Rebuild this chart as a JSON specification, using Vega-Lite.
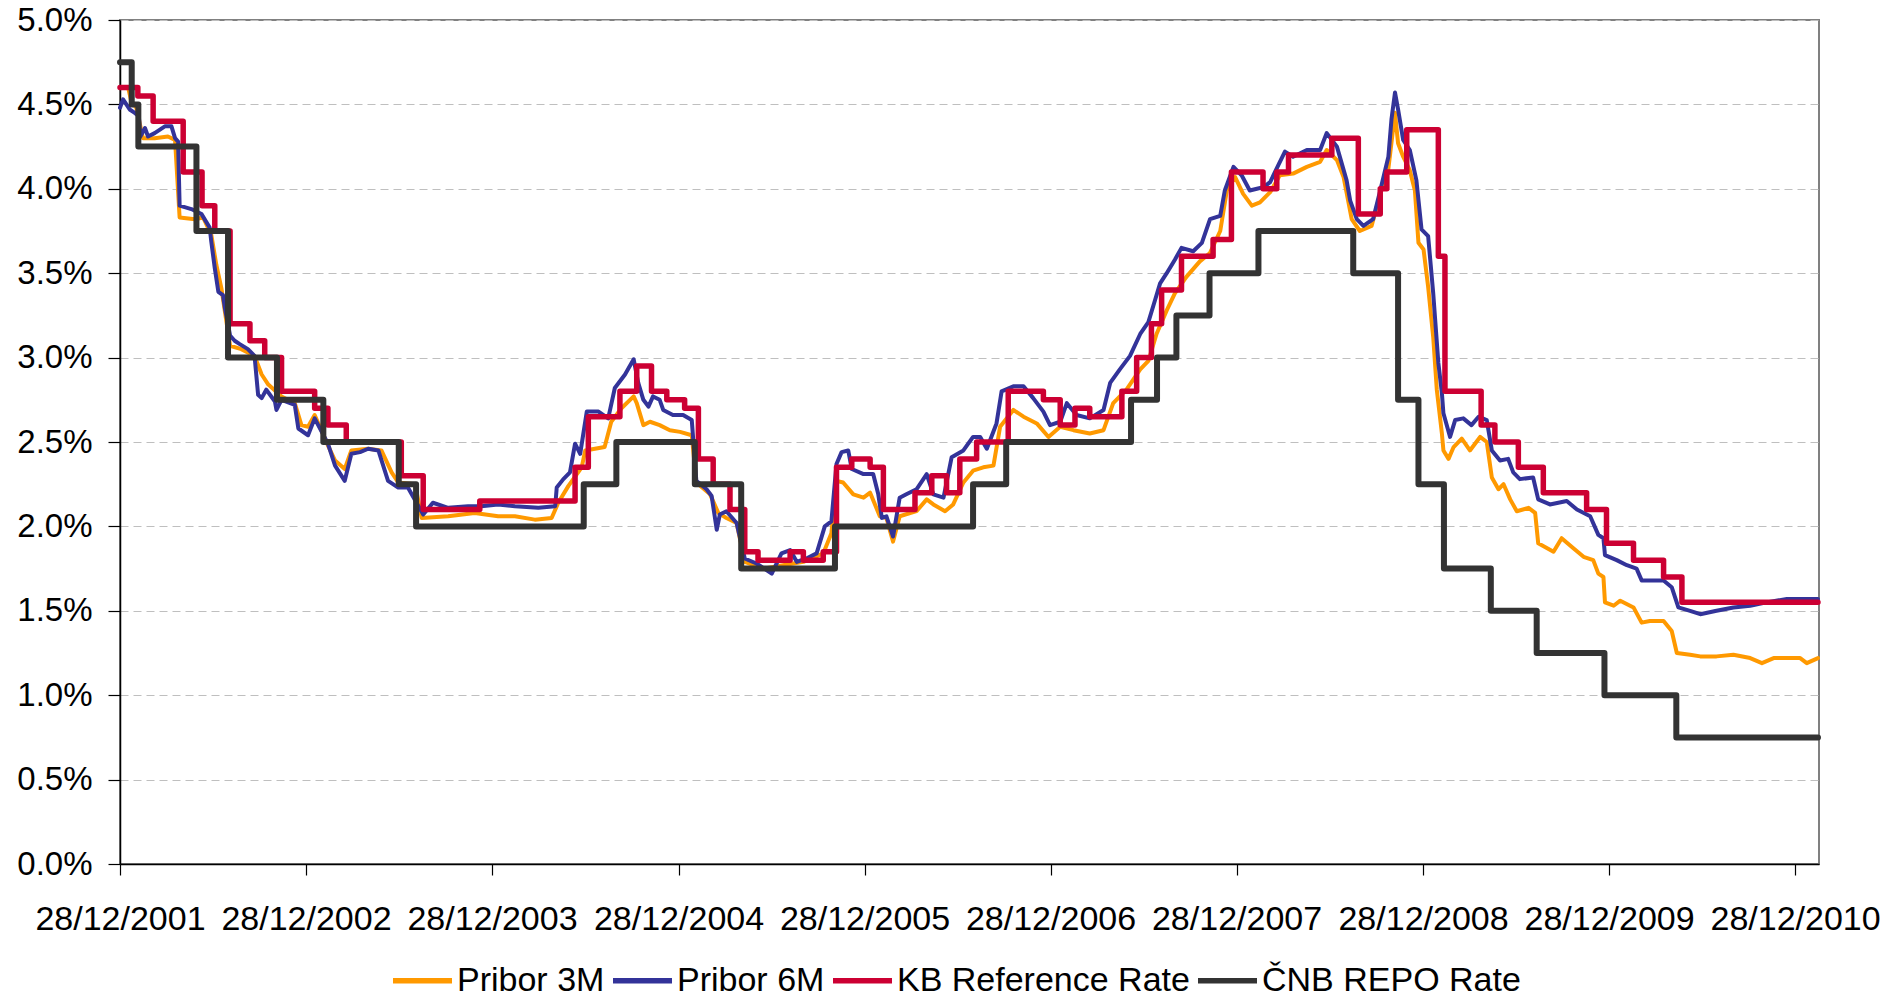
{
"$schema": "https://vega.github.io/schema/vega-lite/v6.json",
"width": 1699, "height": 844,
"autosize": {"type": "none"},
"padding": {"left": 120, "top": 20, "right": 82, "bottom": 133},
"background": "white",
"datasets": {
"p3": [
{"date":"2001-12-28","rate":4.60},{"date":"2002-01-13","rate":4.60},{"date":"2002-01-19","rate":4.52},{"date":"2002-01-29","rate":4.48},{"date":"2002-02-11","rate":4.30},{"date":"2002-03-06","rate":4.30},{"date":"2002-04-01","rate":4.31},{"date":"2002-04-15","rate":4.29},{"date":"2002-04-24","rate":3.83},{"date":"2002-05-24","rate":3.82},{"date":"2002-06-09","rate":3.83},{"date":"2002-06-25","rate":3.73},{"date":"2002-07-05","rate":3.55},{"date":"2002-07-15","rate":3.41},{"date":"2002-08-01","rate":3.07},{"date":"2002-08-23","rate":3.05},{"date":"2002-09-18","rate":3.01},{"date":"2002-10-02","rate":2.90},{"date":"2002-10-15","rate":2.84},{"date":"2002-11-10","rate":2.77},{"date":"2002-12-06","rate":2.73},{"date":"2002-12-19","rate":2.60},{"date":"2003-01-01","rate":2.59},{"date":"2003-01-14","rate":2.66},{"date":"2003-02-09","rate":2.48},{"date":"2003-02-23","rate":2.39},{"date":"2003-03-14","rate":2.34},{"date":"2003-03-27","rate":2.45},{"date":"2003-04-29","rate":2.46},{"date":"2003-05-25","rate":2.45},{"date":"2003-06-14","rate":2.32},{"date":"2003-06-27","rate":2.26},{"date":"2003-07-30","rate":2.25},{"date":"2003-08-12","rate":2.05},{"date":"2003-10-03","rate":2.06},{"date":"2003-11-24","rate":2.08},{"date":"2004-01-09","rate":2.06},{"date":"2004-02-11","rate":2.06},{"date":"2004-03-21","rate":2.04},{"date":"2004-04-23","rate":2.05},{"date":"2004-05-06","rate":2.14},{"date":"2004-05-26","rate":2.24},{"date":"2004-06-21","rate":2.35},{"date":"2004-06-28","rate":2.45},{"date":"2004-08-05","rate":2.47},{"date":"2004-08-18","rate":2.62},{"date":"2004-09-07","rate":2.70},{"date":"2004-10-01","rate":2.77},{"date":"2004-10-07","rate":2.73},{"date":"2004-10-20","rate":2.60},{"date":"2004-11-02","rate":2.62},{"date":"2004-11-21","rate":2.60},{"date":"2004-12-11","rate":2.57},{"date":"2004-12-31","rate":2.56},{"date":"2005-01-23","rate":2.54},{"date":"2005-02-01","rate":2.26},{"date":"2005-02-28","rate":2.19},{"date":"2005-03-16","rate":2.08},{"date":"2005-04-01","rate":2.05},{"date":"2005-04-21","rate":2.02},{"date":"2005-05-07","rate":1.79},{"date":"2005-06-12","rate":1.75},{"date":"2005-07-21","rate":1.77},{"date":"2005-08-30","rate":1.79},{"date":"2005-10-08","rate":1.84},{"date":"2005-10-24","rate":1.96},{"date":"2005-11-03","rate":2.27},{"date":"2005-11-16","rate":2.26},{"date":"2005-12-06","rate":2.19},{"date":"2005-12-26","rate":2.17},{"date":"2006-01-08","rate":2.20},{"date":"2006-01-27","rate":2.06},{"date":"2006-02-09","rate":2.05},{"date":"2006-02-22","rate":1.91},{"date":"2006-03-07","rate":2.06},{"date":"2006-04-09","rate":2.09},{"date":"2006-04-29","rate":2.16},{"date":"2006-05-12","rate":2.13},{"date":"2006-06-04","rate":2.09},{"date":"2006-06-20","rate":2.13},{"date":"2006-07-10","rate":2.26},{"date":"2006-07-29","rate":2.33},{"date":"2006-08-18","rate":2.35},{"date":"2006-09-07","rate":2.36},{"date":"2006-09-20","rate":2.59},{"date":"2006-10-16","rate":2.69},{"date":"2006-11-05","rate":2.65},{"date":"2006-12-01","rate":2.61},{"date":"2006-12-24","rate":2.53},{"date":"2007-01-16","rate":2.59},{"date":"2007-02-11","rate":2.57},{"date":"2007-03-15","rate":2.55},{"date":"2007-04-11","rate":2.57},{"date":"2007-04-30","rate":2.73},{"date":"2007-05-26","rate":2.81},{"date":"2007-06-22","rate":2.93},{"date":"2007-07-08","rate":2.98},{"date":"2007-07-24","rate":3.14},{"date":"2007-08-13","rate":3.28},{"date":"2007-08-29","rate":3.38},{"date":"2007-09-21","rate":3.48},{"date":"2007-10-17","rate":3.57},{"date":"2007-11-06","rate":3.62},{"date":"2007-11-26","rate":3.75},{"date":"2007-12-09","rate":3.99},{"date":"2007-12-25","rate":4.07},{"date":"2008-01-10","rate":3.97},{"date":"2008-01-27","rate":3.90},{"date":"2008-02-12","rate":3.92},{"date":"2008-03-03","rate":3.98},{"date":"2008-03-22","rate":4.08},{"date":"2008-04-17","rate":4.09},{"date":"2008-05-14","rate":4.13},{"date":"2008-06-09","rate":4.16},{"date":"2008-06-22","rate":4.23},{"date":"2008-07-12","rate":4.17},{"date":"2008-07-25","rate":4.07},{"date":"2008-08-10","rate":3.82},{"date":"2008-08-26","rate":3.75},{"date":"2008-09-18","rate":3.78},{"date":"2008-10-05","rate":3.97},{"date":"2008-10-21","rate":4.12},{"date":"2008-11-03","rate":4.45},{"date":"2008-11-09","rate":4.27},{"date":"2008-11-19","rate":4.19},{"date":"2008-12-02","rate":4.11},{"date":"2008-12-12","rate":3.99},{"date":"2008-12-19","rate":3.68},{"date":"2008-12-29","rate":3.64},{"date":"2009-01-07","rate":3.42},{"date":"2009-01-17","rate":3.12},{"date":"2009-01-24","rate":2.81},{"date":"2009-02-03","rate":2.55},{"date":"2009-02-06","rate":2.45},{"date":"2009-02-16","rate":2.40},{"date":"2009-02-26","rate":2.47},{"date":"2009-03-14","rate":2.52},{"date":"2009-03-30","rate":2.45},{"date":"2009-04-19","rate":2.53},{"date":"2009-05-02","rate":2.50},{"date":"2009-05-12","rate":2.29},{"date":"2009-05-25","rate":2.22},{"date":"2009-06-04","rate":2.25},{"date":"2009-06-17","rate":2.16},{"date":"2009-06-30","rate":2.09},{"date":"2009-07-23","rate":2.11},{"date":"2009-08-05","rate":2.08},{"date":"2009-08-11","rate":1.90},{"date":"2009-09-10","rate":1.85},{"date":"2009-09-26","rate":1.93},{"date":"2009-10-19","rate":1.87},{"date":"2009-11-08","rate":1.82},{"date":"2009-11-27","rate":1.80},{"date":"2009-12-07","rate":1.72},{"date":"2009-12-17","rate":1.70},{"date":"2009-12-20","rate":1.55},{"date":"2010-01-06","rate":1.53},{"date":"2010-01-19","rate":1.56},{"date":"2010-02-14","rate":1.52},{"date":"2010-03-02","rate":1.43},{"date":"2010-03-18","rate":1.44},{"date":"2010-04-14","rate":1.44},{"date":"2010-04-30","rate":1.38},{"date":"2010-05-10","rate":1.25},{"date":"2010-06-05","rate":1.24},{"date":"2010-06-25","rate":1.23},{"date":"2010-07-27","rate":1.23},{"date":"2010-08-29","rate":1.24},{"date":"2010-10-01","rate":1.22},{"date":"2010-10-24","rate":1.19},{"date":"2010-11-16","rate":1.22},{"date":"2011-01-07","rate":1.22},{"date":"2011-01-20","rate":1.19},{"date":"2011-02-11","rate":1.22}
],
"p6": [
{"date":"2001-12-28","rate":4.48},{"date":"2002-01-03","rate":4.53},{"date":"2002-01-16","rate":4.47},{"date":"2002-01-26","rate":4.45},{"date":"2002-02-03","rate":4.43},{"date":"2002-02-06","rate":4.31},{"date":"2002-02-15","rate":4.36},{"date":"2002-02-21","rate":4.31},{"date":"2002-03-06","rate":4.33},{"date":"2002-03-26","rate":4.37},{"date":"2002-04-08","rate":4.37},{"date":"2002-04-15","rate":4.30},{"date":"2002-04-21","rate":4.28},{"date":"2002-04-24","rate":3.90},{"date":"2002-05-17","rate":3.88},{"date":"2002-06-06","rate":3.85},{"date":"2002-06-22","rate":3.77},{"date":"2002-06-25","rate":3.69},{"date":"2002-07-02","rate":3.53},{"date":"2002-07-09","rate":3.39},{"date":"2002-07-18","rate":3.37},{"date":"2002-07-22","rate":3.29},{"date":"2002-08-01","rate":3.13},{"date":"2002-08-10","rate":3.10},{"date":"2002-08-20","rate":3.08},{"date":"2002-09-05","rate":3.05},{"date":"2002-09-18","rate":3.01},{"date":"2002-09-25","rate":2.78},{"date":"2002-10-02","rate":2.76},{"date":"2002-10-11","rate":2.81},{"date":"2002-10-28","rate":2.74},{"date":"2002-10-31","rate":2.69},{"date":"2002-11-10","rate":2.75},{"date":"2002-12-06","rate":2.72},{"date":"2002-12-13","rate":2.58},{"date":"2003-01-01","rate":2.54},{"date":"2003-01-14","rate":2.64},{"date":"2003-02-09","rate":2.49},{"date":"2003-02-23","rate":2.36},{"date":"2003-03-14","rate":2.27},{"date":"2003-03-27","rate":2.43},{"date":"2003-04-13","rate":2.44},{"date":"2003-04-29","rate":2.46},{"date":"2003-05-19","rate":2.45},{"date":"2003-06-07","rate":2.27},{"date":"2003-06-27","rate":2.23},{"date":"2003-07-16","rate":2.23},{"date":"2003-08-15","rate":2.07},{"date":"2003-09-03","rate":2.14},{"date":"2003-10-03","rate":2.11},{"date":"2003-11-11","rate":2.12},{"date":"2003-12-07","rate":2.12},{"date":"2004-01-09","rate":2.13},{"date":"2004-02-11","rate":2.12},{"date":"2004-03-28","rate":2.11},{"date":"2004-04-30","rate":2.12},{"date":"2004-05-03","rate":2.23},{"date":"2004-05-16","rate":2.28},{"date":"2004-05-29","rate":2.32},{"date":"2004-06-08","rate":2.49},{"date":"2004-06-18","rate":2.43},{"date":"2004-07-01","rate":2.68},{"date":"2004-07-24","rate":2.68},{"date":"2004-08-12","rate":2.64},{"date":"2004-08-25","rate":2.82},{"date":"2004-09-14","rate":2.90},{"date":"2004-10-01","rate":2.99},{"date":"2004-10-10","rate":2.85},{"date":"2004-10-20","rate":2.75},{"date":"2004-10-30","rate":2.71},{"date":"2004-11-08","rate":2.77},{"date":"2004-11-21","rate":2.75},{"date":"2004-11-28","rate":2.69},{"date":"2004-12-17","rate":2.66},{"date":"2005-01-06","rate":2.66},{"date":"2005-01-23","rate":2.63},{"date":"2005-02-01","rate":2.27},{"date":"2005-02-21","rate":2.22},{"date":"2005-03-03","rate":2.18},{"date":"2005-03-09","rate":2.06},{"date":"2005-03-13","rate":1.98},{"date":"2005-03-19","rate":2.07},{"date":"2005-04-01","rate":2.09},{"date":"2005-04-21","rate":2.02},{"date":"2005-05-07","rate":1.81},{"date":"2005-05-30","rate":1.78},{"date":"2005-06-29","rate":1.72},{"date":"2005-07-18","rate":1.84},{"date":"2005-08-04","rate":1.86},{"date":"2005-08-17","rate":1.79},{"date":"2005-09-05","rate":1.81},{"date":"2005-09-25","rate":1.84},{"date":"2005-10-11","rate":2.00},{"date":"2005-10-24","rate":2.03},{"date":"2005-11-03","rate":2.37},{"date":"2005-11-13","rate":2.44},{"date":"2005-11-26","rate":2.45},{"date":"2005-12-03","rate":2.34},{"date":"2005-12-26","rate":2.31},{"date":"2006-01-14","rate":2.31},{"date":"2006-01-24","rate":2.19},{"date":"2006-01-31","rate":2.05},{"date":"2006-02-09","rate":2.06},{"date":"2006-02-22","rate":1.94},{"date":"2006-03-07","rate":2.17},{"date":"2006-03-20","rate":2.19},{"date":"2006-04-09","rate":2.22},{"date":"2006-04-29","rate":2.31},{"date":"2006-05-12","rate":2.19},{"date":"2006-06-01","rate":2.17},{"date":"2006-06-17","rate":2.41},{"date":"2006-07-10","rate":2.45},{"date":"2006-07-29","rate":2.53},{"date":"2006-08-12","rate":2.53},{"date":"2006-08-25","rate":2.46},{"date":"2006-09-13","rate":2.61},{"date":"2006-09-23","rate":2.80},{"date":"2006-10-16","rate":2.83},{"date":"2006-11-05","rate":2.83},{"date":"2006-11-24","rate":2.76},{"date":"2006-12-14","rate":2.68},{"date":"2006-12-27","rate":2.60},{"date":"2007-01-16","rate":2.62},{"date":"2007-01-29","rate":2.73},{"date":"2007-02-17","rate":2.66},{"date":"2007-03-15","rate":2.64},{"date":"2007-04-11","rate":2.69},{"date":"2007-04-24","rate":2.85},{"date":"2007-05-13","rate":2.93},{"date":"2007-06-02","rate":3.01},{"date":"2007-06-22","rate":3.14},{"date":"2007-07-08","rate":3.21},{"date":"2007-07-21","rate":3.34},{"date":"2007-07-31","rate":3.44},{"date":"2007-08-13","rate":3.50},{"date":"2007-08-29","rate":3.58},{"date":"2007-09-11","rate":3.65},{"date":"2007-10-04","rate":3.63},{"date":"2007-10-21","rate":3.68},{"date":"2007-11-06","rate":3.82},{"date":"2007-11-26","rate":3.84},{"date":"2007-12-05","rate":3.99},{"date":"2007-12-22","rate":4.13},{"date":"2008-01-07","rate":4.08},{"date":"2008-01-23","rate":3.99},{"date":"2008-02-06","rate":4.00},{"date":"2008-02-19","rate":4.01},{"date":"2008-03-03","rate":4.04},{"date":"2008-03-19","rate":4.14},{"date":"2008-04-01","rate":4.22},{"date":"2008-04-17","rate":4.19},{"date":"2008-05-14","rate":4.23},{"date":"2008-06-09","rate":4.23},{"date":"2008-06-22","rate":4.33},{"date":"2008-07-12","rate":4.25},{"date":"2008-07-31","rate":4.05},{"date":"2008-08-07","rate":3.93},{"date":"2008-08-20","rate":3.82},{"date":"2008-09-02","rate":3.78},{"date":"2008-09-21","rate":3.82},{"date":"2008-10-05","rate":3.99},{"date":"2008-10-21","rate":4.19},{"date":"2008-10-27","rate":4.41},{"date":"2008-11-03","rate":4.57},{"date":"2008-11-09","rate":4.47},{"date":"2008-11-19","rate":4.29},{"date":"2008-12-02","rate":4.23},{"date":"2008-12-15","rate":4.05},{"date":"2008-12-25","rate":3.76},{"date":"2009-01-07","rate":3.72},{"date":"2009-01-17","rate":3.38},{"date":"2009-01-27","rate":2.97},{"date":"2009-02-03","rate":2.79},{"date":"2009-02-06","rate":2.67},{"date":"2009-02-19","rate":2.53},{"date":"2009-03-01","rate":2.63},{"date":"2009-03-17","rate":2.64},{"date":"2009-04-02","rate":2.60},{"date":"2009-04-16","rate":2.65},{"date":"2009-05-02","rate":2.63},{"date":"2009-05-12","rate":2.45},{"date":"2009-05-28","rate":2.39},{"date":"2009-06-13","rate":2.40},{"date":"2009-06-23","rate":2.32},{"date":"2009-07-06","rate":2.28},{"date":"2009-08-01","rate":2.29},{"date":"2009-08-11","rate":2.16},{"date":"2009-09-03","rate":2.13},{"date":"2009-10-06","rate":2.15},{"date":"2009-10-26","rate":2.10},{"date":"2009-11-21","rate":2.06},{"date":"2009-12-07","rate":1.95},{"date":"2009-12-17","rate":1.93},{"date":"2009-12-20","rate":1.83},{"date":"2010-01-12","rate":1.80},{"date":"2010-02-01","rate":1.77},{"date":"2010-02-20","rate":1.75},{"date":"2010-03-02","rate":1.68},{"date":"2010-03-18","rate":1.68},{"date":"2010-04-14","rate":1.68},{"date":"2010-04-30","rate":1.64},{"date":"2010-05-13","rate":1.52},{"date":"2010-06-05","rate":1.50},{"date":"2010-06-25","rate":1.48},{"date":"2010-07-27","rate":1.50},{"date":"2010-08-29","rate":1.52},{"date":"2010-10-01","rate":1.53},{"date":"2010-11-02","rate":1.55},{"date":"2010-12-12","rate":1.57},{"date":"2011-01-13","rate":1.57},{"date":"2011-02-11","rate":1.57}
],
"kb": [
{"date":"2001-12-28","rate":4.60},{"date":"2002-02-01","rate":4.55},{"date":"2002-03-03","rate":4.40},{"date":"2002-05-01","rate":4.10},{"date":"2002-06-07","rate":3.90},{"date":"2002-07-02","rate":3.75},{"date":"2002-08-01","rate":3.20},{"date":"2002-09-09","rate":3.10},{"date":"2002-10-08","rate":3.00},{"date":"2002-11-10","rate":2.80},{"date":"2003-01-14","rate":2.70},{"date":"2003-02-09","rate":2.60},{"date":"2003-03-17","rate":2.50},{"date":"2003-07-03","rate":2.30},{"date":"2003-08-15","rate":2.10},{"date":"2003-12-04","rate":2.15},{"date":"2004-06-08","rate":2.35},{"date":"2004-07-04","rate":2.65},{"date":"2004-09-04","rate":2.80},{"date":"2004-10-07","rate":2.95},{"date":"2004-11-05","rate":2.80},{"date":"2004-12-05","rate":2.75},{"date":"2005-01-09","rate":2.70},{"date":"2005-02-05","rate":2.40},{"date":"2005-03-06","rate":2.25},{"date":"2005-04-08","rate":2.10},{"date":"2005-05-07","rate":1.85},{"date":"2005-06-02","rate":1.80},{"date":"2005-08-04","rate":1.85},{"date":"2005-08-30","rate":1.80},{"date":"2005-10-08","rate":1.85},{"date":"2005-11-03","rate":2.35},{"date":"2005-12-03","rate":2.40},{"date":"2006-01-08","rate":2.35},{"date":"2006-02-03","rate":2.10},{"date":"2006-04-06","rate":2.20},{"date":"2006-05-09","rate":2.30},{"date":"2006-06-07","rate":2.20},{"date":"2006-07-03","rate":2.40},{"date":"2006-08-05","rate":2.50},{"date":"2006-10-06","rate":2.80},{"date":"2006-12-14","rate":2.75},{"date":"2007-01-16","rate":2.60},{"date":"2007-02-14","rate":2.70},{"date":"2007-03-15","rate":2.65},{"date":"2007-05-17","rate":2.80},{"date":"2007-06-15","rate":3.00},{"date":"2007-07-14","rate":3.20},{"date":"2007-08-03","rate":3.40},{"date":"2007-09-11","rate":3.60},{"date":"2007-11-12","rate":3.70},{"date":"2007-12-18","rate":4.10},{"date":"2008-02-18","rate":4.00},{"date":"2008-03-16","rate":4.10},{"date":"2008-04-08","rate":4.20},{"date":"2008-07-02","rate":4.30},{"date":"2008-08-23","rate":3.85},{"date":"2008-10-05","rate":4.00},{"date":"2008-10-18","rate":4.10},{"date":"2008-11-26","rate":4.35},{"date":"2009-01-27","rate":3.60},{"date":"2009-02-09","rate":2.80},{"date":"2009-04-21","rate":2.60},{"date":"2009-05-18","rate":2.50},{"date":"2009-07-03","rate":2.35},{"date":"2009-08-21","rate":2.20},{"date":"2009-11-14","rate":2.10},{"date":"2009-12-23","rate":1.90},{"date":"2010-02-14","rate":1.80},{"date":"2010-04-14","rate":1.70},{"date":"2010-05-20","rate":1.55},{"date":"2011-02-11","rate":1.55}
],
"cnb": [
{"date":"2001-12-28","rate":4.75},{"date":"2002-01-20","rate":4.50},{"date":"2002-02-02","rate":4.25},{"date":"2002-05-27","rate":3.75},{"date":"2002-07-28","rate":3.00},{"date":"2002-11-01","rate":2.75},{"date":"2003-01-31","rate":2.50},{"date":"2003-06-28","rate":2.25},{"date":"2003-08-01","rate":2.00},{"date":"2004-06-25","rate":2.25},{"date":"2004-08-28","rate":2.50},{"date":"2005-01-29","rate":2.25},{"date":"2005-04-30","rate":1.75},{"date":"2005-10-31","rate":2.00},{"date":"2006-07-29","rate":2.25},{"date":"2006-10-02","rate":2.50},{"date":"2007-06-04","rate":2.75},{"date":"2007-07-25","rate":3.00},{"date":"2007-09-01","rate":3.25},{"date":"2007-11-05","rate":3.50},{"date":"2008-02-09","rate":3.75},{"date":"2008-08-13","rate":3.50},{"date":"2008-11-09","rate":2.75},{"date":"2008-12-19","rate":2.25},{"date":"2009-02-07","rate":1.75},{"date":"2009-05-10","rate":1.50},{"date":"2009-08-08","rate":1.25},{"date":"2009-12-19","rate":1.00},{"date":"2010-05-09","rate":0.75},{"date":"2011-02-11","rate":0.75}
]
},
"encoding": {
  "x": {"field": "date", "type": "temporal",
    "scale": {"type": "utc", "domain": [{"year": 2001, "month": 12, "date": 28, "utc": true}, {"year": 2011, "month": 2, "date": 13, "utc": true}]},
    "axis": {"title": null, "grid": false, "format": "%d/%m/%Y",
      "values": [{"year":2001,"month":12,"date":28,"utc":true},{"year":2002,"month":12,"date":28,"utc":true},{"year":2003,"month":12,"date":28,"utc":true},{"year":2004,"month":12,"date":28,"utc":true},{"year":2005,"month":12,"date":28,"utc":true},{"year":2006,"month":12,"date":28,"utc":true},{"year":2007,"month":12,"date":28,"utc":true},{"year":2008,"month":12,"date":28,"utc":true},{"year":2009,"month":12,"date":28,"utc":true},{"year":2010,"month":12,"date":28,"utc":true}],
      "tickSize": 11, "tickColor": "#000000", "tickWidth": 1.2, "domainColor": "#000000", "domainWidth": 1.5,
      "labelPadding": 27, "labelFontSize": 34, "labelFont": "Liberation Sans", "labelColor": "#000000",
      "labelOverlap": false, "labelFlush": false}},
  "y": {"field": "rate", "type": "quantitative",
    "scale": {"domain": [0, 5], "nice": false, "zero": true},
    "axis": {"title": null, "values": [0,0.5,1,1.5,2,2.5,3,3.5,4,4.5,5],
      "labelExpr": "format(datum.value, '.1f') + '%'",
      "grid": true, "gridColor": "#BFBFBF", "gridDash": [8, 5], "gridWidth": 1,
      "tickSize": 12, "tickColor": "#000000", "tickWidth": 1.2, "domainColor": "#000000", "domainWidth": 1.5,
      "labelPadding": 16, "labelFontSize": 33, "labelFont": "Liberation Sans", "labelColor": "#000000"}}
},
"layer": [
  {"data": {"name": "p3"},
   "mark": {"type": "line", "strokeWidth": 4, "strokeJoin": "round", "strokeCap": "round"},
   "encoding": {"color": {"datum": "Pribor 3M", "type": "nominal",
     "scale": {"domain": ["Pribor 3M", "Pribor 6M", "KB Reference Rate", "ČNB REPO Rate"], "range": ["#FF9900", "#333399", "#CC0033", "#333333"]},
     "legend": {"title": null, "orient": "none", "legendX": 270, "legendY": 928, "direction": "horizontal", "columns": 4,
       "symbolType": "stroke", "symbolSize": 3481, "symbolStrokeWidth": 5.5,
       "labelFontSize": 34, "labelFont": "Liberation Sans", "labelColor": "#000000", "labelLimit": 600,
       "labelOffset": 2, "columnPadding": -3}}}},
  {"data": {"name": "p6"},
   "mark": {"type": "line", "strokeWidth": 4, "strokeJoin": "round", "strokeCap": "round"},
   "encoding": {"color": {"datum": "Pribor 6M", "type": "nominal"}}},
  {"data": {"name": "kb"},
   "mark": {"type": "line", "interpolate": "step-after", "strokeWidth": 5.5, "strokeJoin": "round", "strokeCap": "round"},
   "encoding": {"color": {"datum": "KB Reference Rate", "type": "nominal"}}},
  {"data": {"name": "cnb"},
   "mark": {"type": "line", "interpolate": "step-after", "strokeWidth": 6, "strokeJoin": "round", "strokeCap": "round"},
   "encoding": {"color": {"datum": "ČNB REPO Rate", "type": "nominal"}}}
],
"config": {
  "view": {"stroke": "#808080", "strokeWidth": 2},
  "font": "Liberation Sans"
}
}
